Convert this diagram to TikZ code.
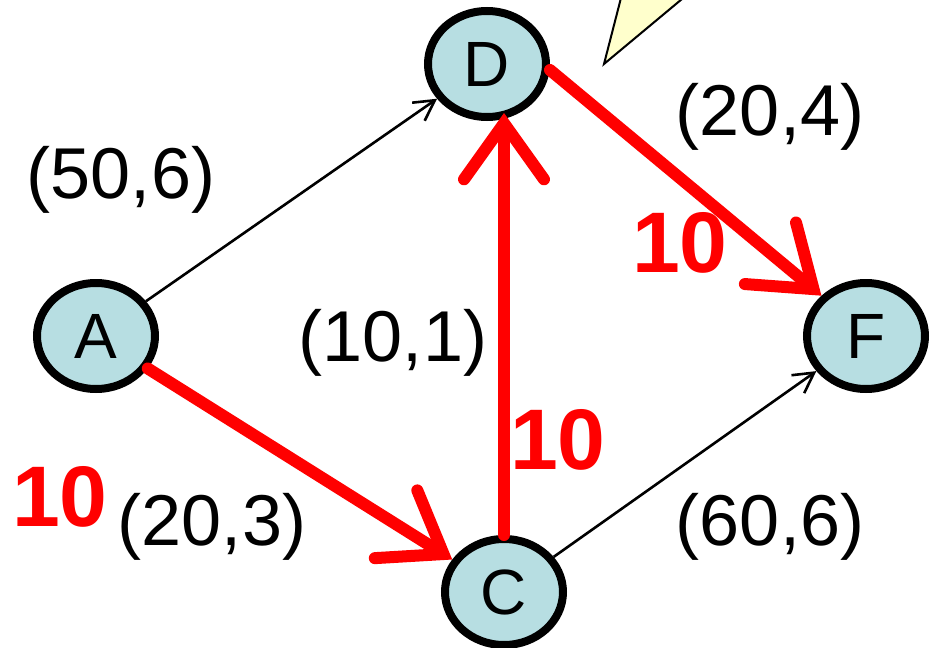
\documentclass[tikz,border=0pt]{standalone}
\usepackage{fontspec}
\setmainfont{Liberation Sans}
\usepackage{xcolor}
\usetikzlibrary{shapes.geometric,arrows.meta}
\definecolor{nodeblue}{RGB}{183, 222, 226}
\definecolor{calloutyellow}{RGB}{255, 255, 204}
\definecolor{flowred}{RGB}{255, 0, 0}

\begin{document}
\begin{tikzpicture}[
    x=0.5pt, y=-0.5pt,
    vertex/.style={ellipse, draw=black, fill=nodeblue, line width=4pt, minimum width=59pt, minimum height=53pt, inner sep=0pt, font=\fontsize{32}{36}\selectfont},
    capacity/.style={font=\fontsize{36}{40}\selectfont},
    flowval/.style={text=flowred, font=\fontsize{43}{46}\selectfont\bfseries},
    edge/.style={-{Straight Barb[length=10pt, width=11pt]}, line width=1.3pt, draw=black},
    flow/.style={-{Straight Barb[length=28pt, width=40pt, line cap=round]}, line width=6pt, draw=flowred, line cap=round}
]
    \clip (0,0) rectangle (933,648);

    % Callout
    \filldraw[fill=calloutyellow, draw=black, line width=1pt] (604,64) -- (622,-6) -- (688,-6) -- cycle;

    % Nodes
    \node[vertex] (A) at (96,336) {A};
    \node[vertex] (D) at (487,64) {D};
    \node[vertex] (F) at (866,336) {F};
    \node[vertex] (C) at (504,592) {C};

    % Draw Arrows
    \draw[edge] (A) -- (D);
    \draw[edge] (C) -- (F);

    \draw[flow] (A) -- (C);
    \draw[flow] (C.north) -- ([yshift=4pt]C.north |- D.south);
    \draw[flow] ([yshift=-3pt]D.east) -- (F.north west);

    % Capacity labels
    \node[capacity] (lAD) at (121,180) {(50,6)};
    \node[capacity] (lDF) at (770,117) {(20,4)};
    \node[capacity] (lCD) at (393,343) {(10,1)};
    \node[capacity] (lAC) at (212,527) {(20,3)};
    \node[capacity] (lCF) at (770,527) {(60,6)};

    % Flow values
    \node[flowval] (fAC) at (60,497) {10};
    \node[flowval] (fCD) at (558,440) {10};
    \node[flowval] (fDF) at (680,243) {10};

\end{tikzpicture}
\end{document}
